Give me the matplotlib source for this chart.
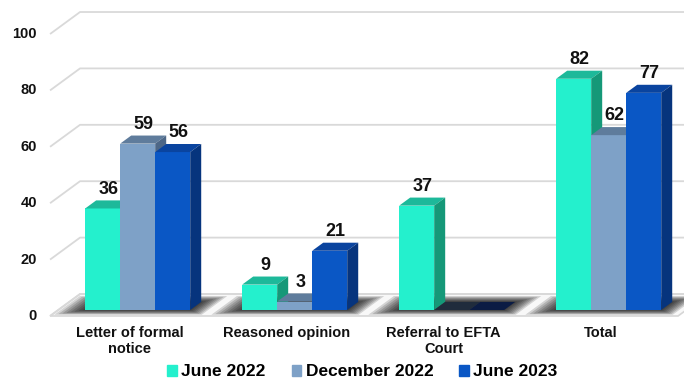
import matplotlib
matplotlib.use("Agg")
import matplotlib.pyplot as plt
import matplotlib.patches as mpatches
from matplotlib.patches import Polygon

plt.rcParams["font.family"] = ["Liberation Sans", "DejaVu Sans"]

# ── Datos ────────────────────────────────────────────────────────────────────
CATEGORIES = ["Letter of formal\nnotice", "Reasoned opinion",
              "Referral to EFTA\nCourt", "Total"]
SERIES = ["June 2022", "December 2022", "June 2023"]
JUNE_2022 = [36, 9, 37, 82]
DEC_2022 = [59, 3, 0, 62]
JUNE_2023 = [56, 21, 0, 77]
Y_TICKS = [0, 20, 40, 60, 80, 100]

# front, top, side colours per series
COLORS = [
    ("#24f0cd", "#1db99a", "#159878"),
    ("#7ea1c7", "#5f7c9c", "#4d6787"),
    ("#0a57c5", "#0a449f", "#06347d"),
]
ZERO_TOP = ["#1a2a26", "#202c3c", "#0b1c44"]

# ── Geometria pseudo-3D (unidades de datos) ─────────────────────────────────
DX, DY = 0.191, 7.8          # profundidad total del piso
F0, F1 = 0.273, 0.64         # profundidad de cara frontal / trasera de barras
BW = 0.223                   # ancho de barra
FL, FR = -0.506, 3.494       # bordes del piso
XMIN, XMAX = -0.8248, 3.5318
YMIN, YMAX = -21.99, 112.06

fig = plt.figure(figsize=(6.84, 3.78), dpi=100, facecolor="white")
ax = fig.add_axes([0, 0, 1, 1])
ax.set_xlim(XMIN, XMAX)
ax.set_ylim(YMIN, YMAX)
ax.axis("off")

# piso
ax.add_patch(Polygon([(FL, 0), (FR, 0), (FR + DX, DY), (FL + DX, DY)],
                     closed=True, facecolor="#f8f8f8", edgecolor="#d6d6d6",
                     lw=1.2, zorder=1))

# lineas de cuadricula
for v in Y_TICKS:
    ax.plot([FL, FL + DX, XMAX], [v, v + DY, v + DY], color="#d9d9d9",
            lw=1.3, zorder=1.5, solid_capstyle="butt")
    ax.text(-0.589, v, str(v), ha="right", va="center", fontsize=10.5,
            fontweight="bold", color="#111111")

# sombras
d = F1 - F0
for i in range(len(CATEGORIES)):
    gl, gr = i - 1.5 * BW, i + 1.5 * BW
    for k in range(8):
        ex_l = 0.015 + 0.02 * k
        ex_r = 0.01 + 0.015 * k
        d0 = max(F0 - 0.02 - 0.028 * k, 0.04)
        d1 = min(F1 + 0.02 + 0.035 * k, 0.95)
        pts = [(gl - ex_l + d0 * DX, d0 * DY), (gr + ex_r + d0 * DX, d0 * DY),
               (gr + ex_r + d1 * DX, d1 * DY), (gl - ex_l + d1 * DX, d1 * DY)]
        ax.add_patch(Polygon(pts, closed=True, facecolor="black",
                             edgecolor="none", alpha=0.15, zorder=2))

# barras
for j, vals in enumerate([JUNE_2022, DEC_2022, JUNE_2023]):
    front, top, side = COLORS[j]
    for i, v in enumerate(vals):
        xl = i - 1.5 * BW + j * BW + F0 * DX
        base = F0 * DY
        zo = 3 + i * 0.1 + j * 0.01
        ax.bar(xl, v, width=BW, bottom=base, align="edge", color=front,
               edgecolor="none", zorder=zo)
        tc = top if v > 0 else ZERO_TOP[j]
        yt = base + v
        ax.add_patch(Polygon([(xl, yt), (xl + BW, yt), (xl + BW + d * DX, yt + d * DY),
                              (xl + d * DX, yt + d * DY)], closed=True,
                             facecolor=tc, edgecolor="none", zorder=zo))
        if v > 0:
            ax.add_patch(Polygon([(xl + BW, base), (xl + BW, yt),
                                  (xl + BW + d * DX, yt + d * DY),
                                  (xl + BW + d * DX, base + d * DY)], closed=True,
                                 facecolor=side, edgecolor="none", zorder=zo))
            ax.text(xl + BW / 2 + d * DX / 2, yt + d * DY + 1.0, str(v),
                    ha="center", va="bottom", fontsize=13, fontweight="bold",
                    color="#111111", zorder=10)

# etiquetas de categoria
for i, lab in enumerate(CATEGORIES):
    ax.text(i, -3.4, lab, ha="center", va="top", fontsize=10.5,
            fontweight="bold", color="#111111", linespacing=1.2)

# leyenda
handles = [mpatches.Patch(color=c[0], label=s) for c, s in zip(COLORS, SERIES)]
fig.legend(handles=handles, loc="center", bbox_to_anchor=(0.53, 0.016), ncol=3,
           frameon=False, prop=dict(weight="bold", size=12.5),
           handlelength=0.55, handleheight=0.55, handletextpad=0.25,
           columnspacing=1.5, borderpad=0.1)

fig.savefig("out.png", dpi=100, facecolor="white")
